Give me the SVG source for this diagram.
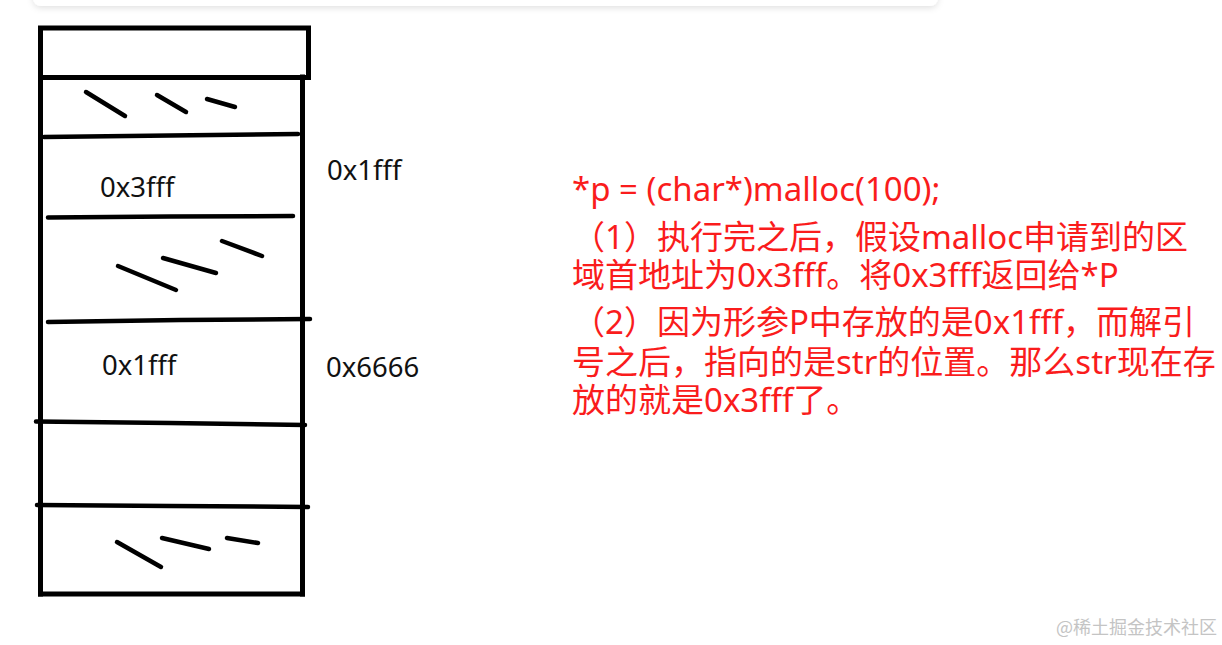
<svg xmlns="http://www.w3.org/2000/svg" width="1222" height="645" viewBox="0 0 1222 645">
<defs>
<style>
.frame{fill:none;stroke:#000;stroke-width:5;stroke-linecap:square}
.row{fill:none;stroke:#000;stroke-width:4.5;stroke-linecap:round}
.hatch{fill:none;stroke:#000;stroke-width:4.5;stroke-linecap:round}
.lbl{font-family:"Noto Sans","Liberation Sans",sans-serif;font-size:27.5px;fill:#111}
.note{font-family:"Noto Sans","Noto Sans CJK SC",sans-serif;font-size:33px;fill:#fa1c1c}
.wm{font-family:"Noto Sans CJK SC",sans-serif;font-size:18px;fill:#c4c4c4}
</style>
<filter id="sh" x="-5%" y="-100%" width="110%" height="400%">
<feDropShadow dx="0" dy="2" stdDeviation="3" flood-color="#000" flood-opacity="0.12"/>
</filter>
</defs>
<rect width="1222" height="645" fill="#fff"/>
<g id="card">
<rect x="33" y="-20" width="905" height="26" rx="8" fill="#fff" filter="url(#sh)"/>
</g>
<g id="memory">
<rect class="frame" x="40.5" y="28" width="268" height="49.5"/>
<line class="frame" x1="40.5" y1="77" x2="40.5" y2="594"/>
<line class="frame" x1="302.5" y1="77" x2="302.5" y2="594"/>
<line class="frame" x1="40.5" y1="594" x2="302.5" y2="594"/>
</g>
<g id="rows">
<polyline class="row" points="44,137 170,135.5 298,134"/>
<polyline class="row" points="48,217.5 170,216.5 293,216"/>
<polyline class="row" points="48,322 180,320 310,319"/>
<polyline class="row" points="36,421.5 170,423 305,425"/>
<polyline class="row" points="37,505 170,506 308,507"/>
</g>
<g id="hatches">
<line class="hatch" x1="86" y1="92" x2="125" y2="116"/>
<line class="hatch" x1="157" y1="95" x2="186" y2="112"/>
<line class="hatch" x1="207" y1="99" x2="235" y2="107"/>
<line class="hatch" x1="118" y1="266" x2="176" y2="290"/>
<line class="hatch" x1="163" y1="258" x2="216" y2="273"/>
<line class="hatch" x1="222" y1="241" x2="262" y2="256"/>
<line class="hatch" x1="117" y1="542" x2="161" y2="567"/>
<line class="hatch" x1="162" y1="538" x2="209" y2="549"/>
<line class="hatch" x1="227" y1="538" x2="258" y2="543"/>
</g>
<g id="labels">
<text class="lbl" x="100" y="197">0x3fff</text>
<text class="lbl" x="327" y="180">0x1fff</text>
<text class="lbl" x="102" y="375">0x1fff</text>
<text class="lbl" x="326" y="377">0x6666</text>
</g>
<g id="note">
<text class="note" x="572" y="201">*p = (char*)malloc(100);</text>
<text class="note" x="572" y="249">（1）执行完之后，假设malloc申请到的区</text>
<text class="note" x="572" y="287">域首地址为0x3fff。将0x3fff返回给*P</text>
<text class="note" x="572" y="334">（2）因为形参P中存放的是0x1fff，而解引</text>
<text class="note" x="572" y="374">号之后，指向的是str的位置。那么str现在存</text>
<text class="note" x="572" y="412">放的就是0x3fff了。</text>
</g>
<g id="watermark">
<text class="wm" x="1056" y="634">@稀土掘金技术社区</text>
</g>
</svg>
